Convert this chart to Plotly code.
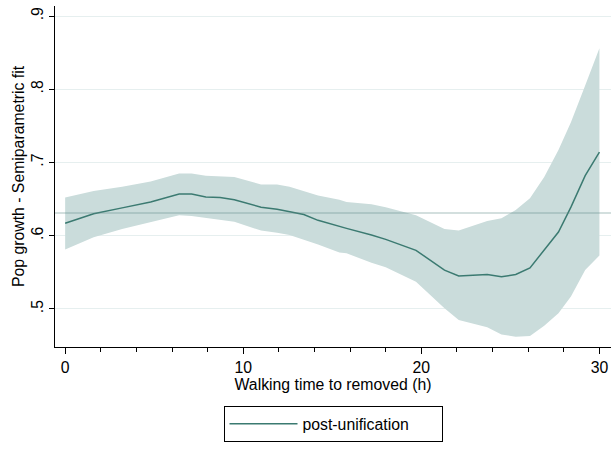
import plotly.graph_objects as go

# Semiparametric fit of population growth on walking time, with confidence band
walk_time = [0, 1.6, 3.2, 4.8, 6.4, 7.1, 7.9, 8.7, 9.5, 11.0, 11.9, 12.6, 13.4, 14.2, 15.4,
             15.8, 17.2, 18.0, 19.7, 21.3, 22.1, 23.7, 24.5, 25.3, 26.1, 26.9, 27.7, 28.4, 29.2, 30.0]
fit = [0.617, 0.630, 0.638, 0.646, 0.657, 0.657, 0.653, 0.652, 0.649, 0.639, 0.636, 0.633, 0.629, 0.621, 0.612,
       0.610, 0.601, 0.595, 0.580, 0.553, 0.545, 0.547, 0.544, 0.547, 0.556, 0.580, 0.605, 0.639, 0.682, 0.714]
ci_upper = [0.652, 0.661, 0.667, 0.674, 0.685, 0.685, 0.682, 0.681, 0.680, 0.670, 0.670, 0.667, 0.661, 0.655, 0.649,
            0.646, 0.643, 0.639, 0.628, 0.609, 0.607, 0.620, 0.624, 0.635, 0.651, 0.680, 0.717, 0.755, 0.805, 0.856]
ci_lower = [0.581, 0.598, 0.609, 0.619, 0.628, 0.627, 0.624, 0.622, 0.619, 0.607, 0.604, 0.601, 0.595, 0.588, 0.577,
            0.576, 0.563, 0.557, 0.537, 0.501, 0.485, 0.475, 0.465, 0.462, 0.463, 0.477, 0.494, 0.517, 0.553, 0.573]
mean_growth = 0.631

y_ticks = [0.5, 0.6, 0.7, 0.8, 0.9]
y_tick_text = [".5", ".6", ".7", ".8", ".9"]
x_major_ticks = [0, 10, 20, 30]
x_minor_ticks = [2, 4, 6, 8, 12, 14, 16, 18, 22, 24, 26, 28]

FONT = "Liberation Sans, Arial, sans-serif"
FSIZE = 15.8
BAND = "#cadcdb"
LINE = "#3b7a71"
X_RANGE = [-0.57, 30.65]

fig = go.Figure()

fig.add_trace(go.Scatter(
    x=walk_time + walk_time[::-1],
    y=ci_upper + ci_lower[::-1],
    fill="toself", fillcolor=BAND, line=dict(width=0),
    mode="lines", hoverinfo="skip", showlegend=False,
))
fig.add_trace(go.Scatter(
    x=walk_time, y=fit, mode="lines",
    line=dict(color=LINE, width=1.5),
    name="post-unification",
))
# invisible carrier so the minor-tick axis is drawn
fig.add_trace(go.Scatter(
    x=[walk_time[0]], y=[fit[0]], xaxis="x2", mode="markers",
    marker=dict(opacity=0), hoverinfo="skip", showlegend=False,
))

fig.add_shape(type="line", xref="paper", x0=0, x1=1, yref="y", y0=mean_growth, y1=mean_growth,
              line=dict(color="rgba(95,140,134,0.55)", width=1.2), layer="above")

fig.update_layout(
    width=614, height=450,
    margin=dict(l=55, r=3, t=6, b=103),
    paper_bgcolor="white", plot_bgcolor="white",
    font=dict(family=FONT, size=FSIZE, color="black"),
    showlegend=True,
    legend=dict(
        orientation="h", x=0.5, xanchor="center", y=-0.173, yanchor="top",
        bordercolor="black", borderwidth=1, itemwidth=68, entrywidth=134,
        font=dict(size=FSIZE),
    ),
    xaxis=dict(
        range=X_RANGE,
        tickvals=x_major_ticks, ticks="outside", ticklen=6, tickwidth=1.3, tickcolor="black",
        showline=True, linecolor="black", linewidth=1,
        showgrid=False, zeroline=False,
        title=dict(text="Walking time to removed (h)", standoff=3, font=dict(size=FSIZE)),
    ),
    xaxis2=dict(
        range=X_RANGE, overlaying="x", anchor="y", side="bottom",
        tickvals=x_minor_ticks, ticks="outside", ticklen=4, tickwidth=1.2, tickcolor="black",
        showticklabels=False, showline=False, showgrid=False, zeroline=False,
    ),
    yaxis=dict(
        range=[0.448, 0.9137],
        tickvals=y_ticks, ticktext=y_tick_text, tickangle=-90,
        ticks="outside", ticklen=5, tickwidth=1.3, tickcolor="black",
        showline=True, linecolor="black", linewidth=1,
        showgrid=True, gridcolor="#e6efef", gridwidth=1, zeroline=False,
        title=dict(text="Pop growth - Semiparametric fit", standoff=0, font=dict(size=FSIZE)),
    ),
)

fig.write_html("out.html")
